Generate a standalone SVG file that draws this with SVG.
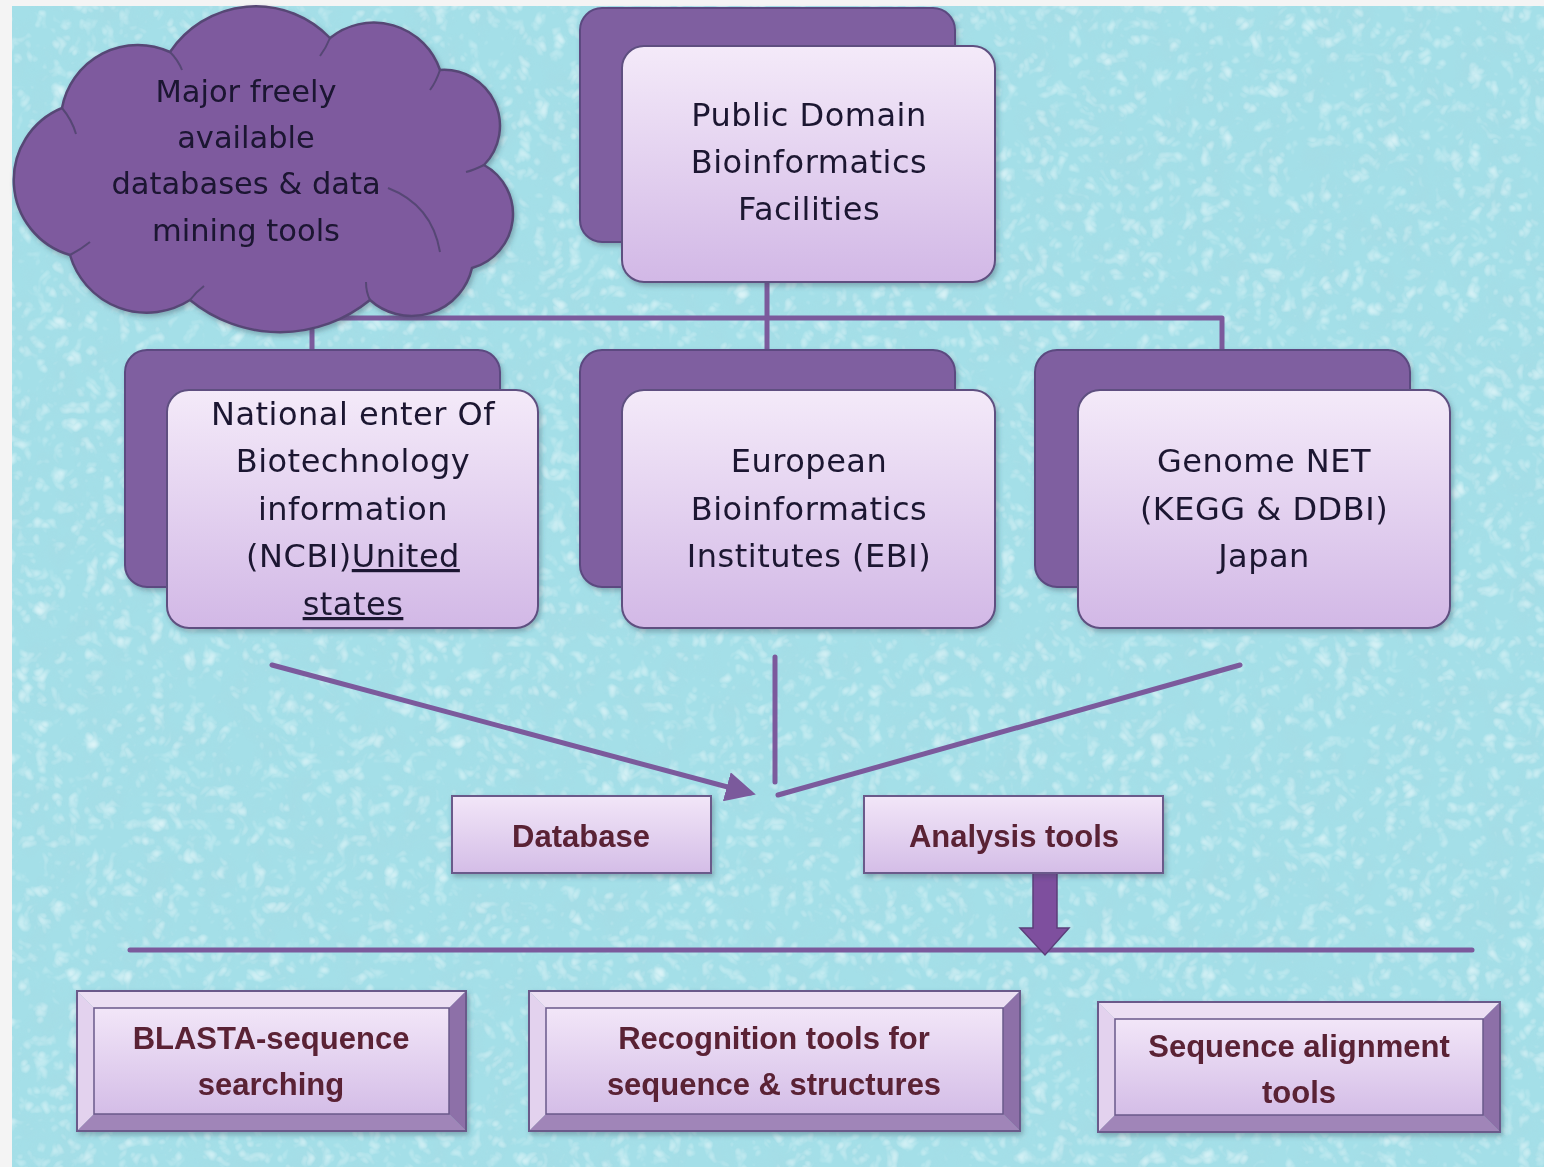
<svg xmlns="http://www.w3.org/2000/svg" width="1544" height="1167" viewBox="0 0 1544 1167">
<defs>
<style>
.reg{font-family:"DejaVu Sans","Liberation Sans",sans-serif;font-size:32px;fill:#1c1830;text-anchor:middle;letter-spacing:0.5px}
.cl{font-family:"DejaVu Sans","Liberation Sans",sans-serif;font-size:30.5px;fill:#1a1430;text-anchor:middle}
.bld{font-family:"Liberation Sans","Open Sans",sans-serif;font-weight:bold;font-size:31px;fill:#5a2234;text-anchor:middle}
.back{fill:#7f5fa0;stroke:#5b4a80;stroke-width:2}
.front{fill:url(#lav);stroke:#5e5080;stroke-width:2}
.conn{stroke:#7b5a9c;stroke-width:5;fill:none;stroke-linecap:round}
.flat{fill:url(#lav2);stroke:#6a5a8a;stroke-width:2}
.ftop{fill:#ecdff3}.fleft{fill:#e3d2ee}.fright{fill:#8d70a8}.fbot{fill:#a085b8}
.inner{fill:url(#lav2);stroke:#6a5a8a;stroke-width:1.5}
.outer{fill:none;stroke:#6a5a8a;stroke-width:2}
</style>
<linearGradient id="lav" x1="0" y1="0" x2="0" y2="1">
<stop offset="0" stop-color="#f4eaf9"/><stop offset="1" stop-color="#d2b8e6"/>
</linearGradient>
<linearGradient id="lav2" x1="0" y1="0" x2="0" y2="1">
<stop offset="0" stop-color="#f2e6f8"/><stop offset="1" stop-color="#d4bde7"/>
</linearGradient>
<filter id="tex" x="0" y="0" width="100%" height="100%">
<feTurbulence type="fractalNoise" baseFrequency="0.035 0.028" numOctaves="3" seed="7" result="n"/>
<feColorMatrix in="n" type="matrix" values="0 0 0 0 0.38  0 0 0 0 0.72  0 0 0 0 0.79  0 0 0 -2.4 1.45" result="dark"/>
<feTurbulence type="turbulence" baseFrequency="0.06" numOctaves="2" seed="3" result="n2"/>
<feColorMatrix in="n2" type="matrix" values="0 0 0 0 0.92  0 0 0 0 0.99  0 0 0 0 1  0 0 0 1.6 -0.45" result="light"/>
<feMerge><feMergeNode in="dark"/><feMergeNode in="light"/></feMerge>
</filter>
<marker id="ah" viewBox="0 0 10 10" refX="8" refY="5" markerWidth="6" markerHeight="6" orient="auto" markerUnits="strokeWidth">
<path d="M0 0 L10 5 L0 10 Z" fill="#7b5a9c"/>
</marker>
<filter id="sh" x="-10%" y="-10%" width="125%" height="125%">
<feDropShadow dx="2" dy="3" stdDeviation="2.5" flood-color="#334455" flood-opacity="0.35"/>
</filter>
</defs>

<rect width="1544" height="1167" fill="#f4f4f4"/>
<rect x="12" y="6" width="1532" height="1161" fill="#a4dfe8"/>
<rect x="12" y="6" width="1532" height="1161" fill="#a4dfe8" filter="url(#tex)" opacity="0.7"/>

<g id="connectors">
<path class="conn" d="M767 282 V318 M312 318 H1222 M312 318 V352 M767 318 V352 M1222 318 V352" stroke-width="6"/>
<line class="conn" x1="272" y1="665" x2="750" y2="793" marker-end="url(#ah)"/>
<line class="conn" x1="775" y1="657" x2="775" y2="782"/>
<line class="conn" x1="1240" y1="665" x2="778" y2="795"/>
<line class="conn" x1="130" y1="950" x2="1472" y2="950" stroke-width="6"/>
<path d="M1033 873 H1057 V928 H1069 L1045 955 L1020 928 H1033 Z" fill="#7e4f9e" stroke="#5b3f7a" stroke-width="1.5"/>
</g>

<g id="cloud" filter="url(#sh)">
<path d="M62 108 A77 77 0 0 1 170 52 A103 103 0 0 1 330 38 A70 70 0 0 1 440 70 A56 56 0 0 1 484 165 A56 56 0 0 1 472 268 A62 62 0 0 1 370 300 A142 142 0 0 1 190 300 A80 80 0 0 1 70 255 A78 78 0 0 1 62 108 Z" fill="#7e5a9e" stroke="#574775" stroke-width="2.5"/>
<path d="M388 188 Q432 205 440 252 M62 108 Q72 120 76 134 M170 52 Q178 60 182 70 M330 38 Q326 48 320 56 M440 70 Q436 82 430 90 M484 165 Q474 170 466 172 M70 255 Q80 250 90 242 M190 300 Q196 292 204 286 M370 300 Q366 292 366 282" stroke="#574775" stroke-width="2" fill="none"/>
<text class="cl" x="246" y="102">Major freely</text>
<text class="cl" x="246" y="148">available</text>
<text class="cl" x="246" y="194">databases &amp; data</text>
<text class="cl" x="246" y="241">mining tools</text>
</g>

<g id="public-domain" filter="url(#sh)">
<rect class="back" x="580" y="8" width="375" height="234" rx="22"/>
<rect class="front" x="622" y="46" width="373" height="236" rx="22"/>
<text class="reg" x="809" y="126">Public Domain</text>
<text class="reg" x="809" y="173">Bioinformatics</text>
<text class="reg" x="809" y="220">Facilities</text>
</g>

<g id="ncbi" filter="url(#sh)">
<rect class="back" x="125" y="350" width="375" height="237" rx="22"/>
<rect class="front" x="167" y="390" width="371" height="238" rx="22"/>
<text class="reg" x="353" y="425">National enter Of</text>
<text class="reg" x="353" y="472">Biotechnology</text>
<text class="reg" x="353" y="520">information</text>
<text class="reg" x="353" y="567">(NCBI)<tspan text-decoration="underline">United</tspan></text>
<text class="reg" x="353" y="615" text-decoration="underline">states</text>
</g>

<g id="ebi" filter="url(#sh)">
<rect class="back" x="580" y="350" width="375" height="237" rx="22"/>
<rect class="front" x="622" y="390" width="373" height="238" rx="22"/>
<text class="reg" x="809" y="472">European</text>
<text class="reg" x="809" y="520">Bioinformatics</text>
<text class="reg" x="809" y="567">Institutes (EBI)</text>
</g>

<g id="genome-net" filter="url(#sh)">
<rect class="back" x="1035" y="350" width="375" height="237" rx="22"/>
<rect class="front" x="1078" y="390" width="372" height="238" rx="22"/>
<text class="reg" x="1264" y="472">Genome NET</text>
<text class="reg" x="1264" y="520">(KEGG &amp; DDBI)</text>
<text class="reg" x="1264" y="567">Japan</text>
</g>

<g id="database" filter="url(#sh)">
<rect class="flat" x="452" y="796" width="259" height="77"/>
<text class="bld" x="581" y="847">Database</text>
</g>

<g id="analysis-tools" filter="url(#sh)">
<rect class="flat" x="864" y="796" width="299" height="77"/>
<text class="bld" x="1014" y="847">Analysis tools</text>
</g>

<g id="blasta" filter="url(#sh)">
<polygon class="ftop" points="77,991 466,991 449,1008 94,1008"/>
<polygon class="fleft" points="77,991 94,1008 94,1114 77,1131"/>
<polygon class="fright" points="466,991 466,1131 449,1114 449,1008"/>
<polygon class="fbot" points="77,1131 94,1114 449,1114 466,1131"/>
<rect class="inner" x="94" y="1008" width="355" height="106"/>
<rect class="outer" x="77" y="991" width="389" height="140"/>
<text class="bld" x="271" y="1049">BLASTA-sequence</text>
<text class="bld" x="271" y="1095">searching</text>
</g>

<g id="recognition" filter="url(#sh)">
<polygon class="ftop" points="529,991 1020,991 1003,1008 546,1008"/>
<polygon class="fleft" points="529,991 546,1008 546,1114 529,1131"/>
<polygon class="fright" points="1020,991 1020,1131 1003,1114 1003,1008"/>
<polygon class="fbot" points="529,1131 546,1114 1003,1114 1020,1131"/>
<rect class="inner" x="546" y="1008" width="457" height="106"/>
<rect class="outer" x="529" y="991" width="491" height="140"/>
<text class="bld" x="774" y="1049">Recognition tools for</text>
<text class="bld" x="774" y="1095">sequence &amp; structures</text>
</g>

<g id="sequence-alignment" filter="url(#sh)">
<polygon class="ftop" points="1098,1002 1500,1002 1483,1019 1115,1019"/>
<polygon class="fleft" points="1098,1002 1115,1019 1115,1115 1098,1132"/>
<polygon class="fright" points="1500,1002 1500,1132 1483,1115 1483,1019"/>
<polygon class="fbot" points="1098,1132 1115,1115 1483,1115 1500,1132"/>
<rect class="inner" x="1115" y="1019" width="368" height="96"/>
<rect class="outer" x="1098" y="1002" width="402" height="130"/>
<text class="bld" x="1299" y="1057">Sequence alignment</text>
<text class="bld" x="1299" y="1103">tools</text>
</g>
</svg>
